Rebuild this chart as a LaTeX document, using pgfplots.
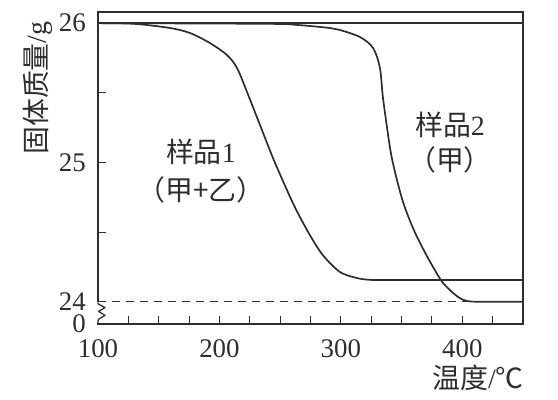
\documentclass[border=0pt]{standalone}
\usepackage{fontspec}
\setmainfont{Liberation Serif}
\newfontfamily\cjk{Noto Sans CJK SC}
\usepackage{pgfplots}
\pgfplotsset{compat=1.18}
\definecolor{ink}{gray}{0.18}
\begin{document}
\begin{tikzpicture}
\begin{axis}[
  at={(0,0)}, anchor=south west,
  scale only axis, width=425bp, height=312bp,
  xmin=100, xmax=450, ymin=23.84, ymax=26.08,
  xtick={100,200,300,400},
  minor xtick={125,150,175,225,250,275,325,350,375,425},
  ytick={23.84,24,25,26}, yticklabels={\raisebox{-3bp}{0},24,25,26},
  minor ytick={24.5,25.5},
  tick align=inside, xtick pos=bottom, ytick pos=left,
  major tick length=8bp, minor tick length=8bp,
  tick style={line width=1.1pt, ink},
  axis line style={line width=1.6pt, ink},
  ticklabel style={font=\fontsize{27}{29}\selectfont, text=ink},
  yticklabel style={inner sep=0pt, xshift=-12bp},
  xticklabel style={yshift=-12bp},
  /pgf/number format/assume math mode=true,
  xlabel={{\cjk 温度}/{\cjk ℃}},
  xlabel style={at={(axis description cs:0.894,-0.173)}, anchor=center, font=\fontsize{28}{30}\selectfont, text=ink},
  ylabel={{\cjk 固体质量}/g},
  ylabel style={at={(axis description cs:-0.141,0.756)}, anchor=center, font=\fontsize{28}{30}\selectfont, text=ink},
  every axis plot/.append style={line width=1.7pt, ink},
  clip=false,
]
% reference line at 26
\addplot[no marks] coordinates {(100,26) (450,26)};
% dashed line at 24
\addplot[no marks, dashed, dash pattern=on 8bp off 6bp, line width=1.3pt] coordinates {(100,24) (450,24)};
% sample 1 (甲+乙)
\addplot[no marks, smooth, tension=0.5] coordinates {
 (100,26.0) (130,25.995) (159.3,25.965) (175.8,25.929) (192.2,25.857) (206.2,25.771)
 (214.5,25.678) (222.7,25.506) (233.4,25.269) (244.1,25.032) (255.6,24.802)
 (263.9,24.648) (274.6,24.477) (285.3,24.333) (299.3,24.213) (313.3,24.170)
 (324,24.157) (340,24.156) (450,24.156)};
% sample 2 (甲)
\addplot[no marks, smooth, tension=0.5] coordinates {
 (100,26.0) (240,25.995) (264.3,25.987) (291.1,25.965) (299.3,25.951) (315.8,25.900)
 (326.5,25.822) (332.2,25.678) (334.7,25.463) (340.5,25.104) (344.6,24.931)
 (351.2,24.716) (359.4,24.529) (367.7,24.38) (375.9,24.25) (384.1,24.135)
 (395.6,24.04) (403.9,24.005) (415,24.0) (450,24.0)};
\node[font=\fontsize{28}{30}\selectfont, text=ink] at (axis cs:184.8,25.075) {{\cjk 样品}1};
\node[font=\fontsize{28}{30}\selectfont, text=ink] at (axis cs:184.8,24.80) {\cjk （甲+乙）};
\node[font=\fontsize{28}{30}\selectfont, text=ink] at (axis cs:389.9,25.27) {{\cjk 样品}2};
\node[font=\fontsize{28}{30}\selectfont, text=ink] at (axis cs:389.9,25.02) {\cjk （甲）};
\coordinate (c0) at (axis cs:100,23.995);
\coordinate (c1) at (axis cs:100,23.845);
\coordinate (z1) at (axis cs:100,23.985);
\coordinate (z2) at (axis cs:105.8,23.958);
\coordinate (z3) at (axis cs:100.5,23.93);
\coordinate (z4) at (axis cs:105.8,23.902);
\coordinate (z5) at (axis cs:100.5,23.874);
\coordinate (z6) at (axis cs:100,23.86);
\end{axis}
\draw[white, line width=3.5pt] (c0) -- (c1);
\draw[ink, line width=1.3pt, line join=round] (c0) -- (z1) -- (z2) -- (z3) -- (z4) -- (z5) -- (z6) -- ([yshift=-1pt]c1);
\pgfresetboundingbox
\path[use as bounding box] (-98bp,-76bp) rectangle (460bp,324bp);
\end{tikzpicture}
\end{document}
